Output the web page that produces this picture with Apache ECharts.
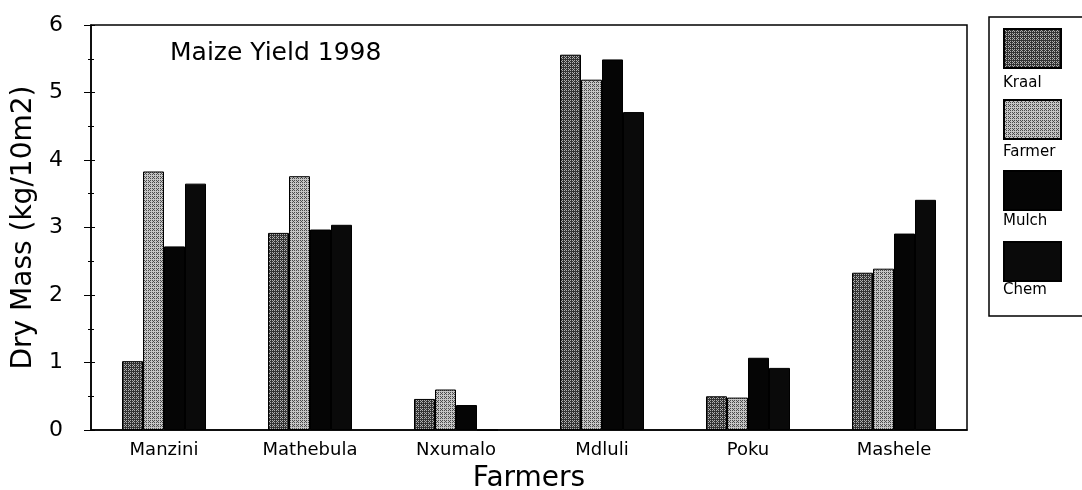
<!DOCTYPE html>
<html>
<head>
<meta charset="utf-8">
<title>Maize Yield 1998</title>
<script src="https://cdn.jsdelivr.net/npm/echarts@6/dist/echarts.min.js"></script>
<style>
  html, body { margin: 0; padding: 0; background: #fff; }
  #chart { width: 1082px; height: 490px; }
</style>
</head>
<body>
<div id="chart"></div>
<script>
// data
var farmers = ['Manzini', 'Mathebula', 'Nxumalo', 'Mdluli', 'Poku', 'Mashele'];
var kraal  = [1.02, 2.92, 0.46, 5.56, 0.50, 2.33];
var farmer = [3.83, 3.76, 0.60, 5.19, 0.48, 2.39];
var mulch  = [2.72, 2.97, 0.37, 5.49, 1.07, 2.91];
var chem   = [3.65, 3.04, 0,    4.71, 0.92, 3.41];
var yTicks = [0, 1, 2, 3, 4, 5, 6];

var FONT = 'DejaVu Sans';

// stipple tile (ordered dither), like the scanned shading
var bayer = [[0, 8, 2, 10], [12, 4, 14, 6], [3, 11, 1, 9], [15, 7, 13, 5]];
function stipple(base, speck, level) {
  var c = document.createElement('canvas');
  c.width = c.height = 4;
  var g = c.getContext('2d');
  g.fillStyle = base;
  g.fillRect(0, 0, 4, 4);
  g.fillStyle = speck;
  for (var y = 0; y < 4; y++) {
    for (var x = 0; x < 4; x++) {
      if (bayer[y][x] < level) g.fillRect(x, y, 1, 1);
    }
  }
  return { image: c, repeat: 'repeat' };
}

var seriesDefs = [
  { name: 'Kraal',  data: kraal,  color: stipple('#333333', '#b0b0b0', 5) },
  { name: 'Farmer', data: farmer, color: stipple('#c4c4c4', '#4a4a4a', 5) },
  { name: 'Mulch',  data: mulch,  color: '#050505' },
  { name: 'Chem',   data: chem,   color: '#0a0a0a' }
];

var chart = echarts.init(document.getElementById('chart'));

var option = {
  animation: false,
  title: {
    text: 'Maize Yield 1998',
    left: 165, top: 36,
    textStyle: { fontFamily: FONT, fontSize: 25, fontWeight: 'normal', color: '#000' }
  },
  legend: {
    orient: 'vertical',
    left: 1003, top: 28, padding: 0,
    icon: 'rect',
    itemWidth: 57, itemHeight: 39, itemGap: 30,
    selectedMode: false,
    formatter: function () { return ''; },
    data: seriesDefs.map(function (s) { return s.name; })
  },
  grid: {
    left: 91, right: 115, top: 25, bottom: 60,
    outerBoundsMode: 'none',
    show: true, borderColor: '#000', borderWidth: 1.5
  },
  xAxis: [{
    type: 'category',
    data: farmers,
    name: 'Farmers',
    nameLocation: 'middle',
    nameGap: 35,
    nameTextStyle: { fontFamily: FONT, fontSize: 28, color: '#000' },
    axisLine: { lineStyle: { color: '#000', width: 1.5 } },
    axisTick: { length: 4, lineStyle: { color: '#000' } },
    axisLabel: { fontFamily: FONT, fontSize: 18, color: '#000', margin: 11 }
  }, {
    type: 'category',
    data: farmers,
    position: 'bottom',
    axisLine: { show: false },
    axisTick: { inside: true, length: 7, lineStyle: { color: '#000' } },
    axisLabel: { show: false }
  }],
  yAxis: [{
    type: 'value',
    min: yTicks[0], max: yTicks[yTicks.length - 1], interval: 1,
    name: 'Dry Mass (kg/10m2)',
    nameLocation: 'middle',
    nameGap: 50,
    nameTextStyle: { fontFamily: FONT, fontSize: 28, color: '#000' },
    axisLine: { show: true, lineStyle: { color: '#000', width: 1.5 } },
    axisTick: { show: true, length: 7, lineStyle: { color: '#000' } },
    minorTick: { show: true, splitNumber: 2, length: 3, lineStyle: { color: '#000' } },
    axisLabel: { fontFamily: FONT, fontSize: 22, color: '#000', margin: 28 },
    splitLine: { show: false }
  }, {
    type: 'value',
    min: yTicks[0], max: yTicks[yTicks.length - 1], interval: 1,
    position: 'left', offset: 0,
    axisLine: { show: false },
    axisTick: { show: true, inside: true, length: 4, lineStyle: { color: '#000' } },
    minorTick: { show: true, splitNumber: 2, length: 3, lineStyle: { color: '#000' } },
    axisLabel: { show: false },
    splitLine: { show: false }
  }],
  graphic: [
    { type: 'rect', shape: { x: 989, y: 17, width: 120, height: 299 },
      style: { fill: 'none', stroke: '#000', lineWidth: 1.5 } }
  ].concat(seriesDefs.map(function (s, i) {
    return {
      type: 'text', left: 1003, top: 76 + i * 69,
      style: { text: s.name, fontFamily: FONT, fontSize: 15, fill: '#000' }
    };
  })),
  series: seriesDefs.map(function (s) {
    return {
      name: s.name,
      type: 'bar',
      data: s.data,
      barWidth: 21,
      barGap: '0%',
      itemStyle: { color: s.color, borderColor: '#000', borderWidth: 1 }
    };
  })
};

chart.setOption(option);
</script>
</body>
</html>
